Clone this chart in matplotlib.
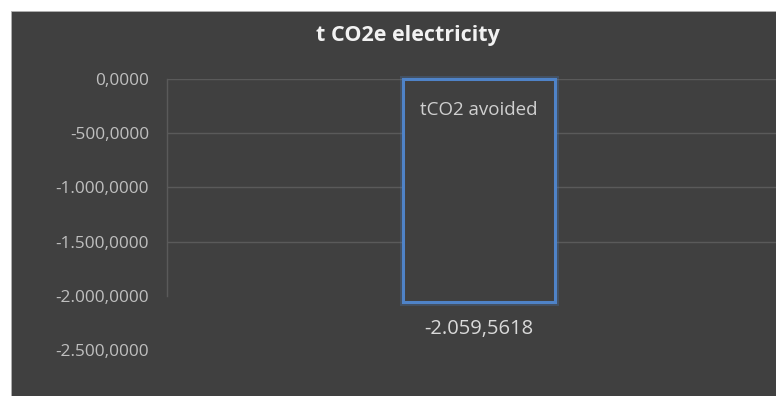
import matplotlib
matplotlib.use("Agg")
import matplotlib.pyplot as plt
from matplotlib.patches import Rectangle
from matplotlib.ticker import FuncFormatter
import matplotlib.patheffects as pe

# Chart data
categories = ["tCO2 avoided"]
values = [-2059.5618]
y_ticks = [0, -500, -1000, -1500, -2000, -2500]
grid_values = [0, -500, -1000, -1500]
title = "t CO2e electricity"

BG = "#404040"
GRID = "#5a5a5a"
BAR_EDGE = "#4f83c8"

plt.rcParams["font.family"] = ["Open Sans", "DejaVu Sans"]

W, H = 776, 396
fig = plt.figure(figsize=(W / 100, H / 100), dpi=100, facecolor="white")

# dark chart area, inset from the top and left edges
fig.patches.append(Rectangle((11 / W, 0), 1 - 11 / W, 1 - 11 / H,
                             transform=fig.transFigure, facecolor=BG,
                             edgecolor="#b0b0b0", linewidth=0.6, zorder=-10))


def euro_fmt(v, _pos=None):
    s = f"{abs(v):,.4f}".replace(",", "X").replace(".", ",").replace("X", ".")
    return ("-" if v < 0 else "") + s


left, top, bottom = 167, 79, 350
right = 791
ax = fig.add_axes([left / W, (H - bottom) / H, (right - left) / W, (bottom - top) / H])
ax.set_facecolor("none")
ax.set_ylim(min(y_ticks), max(y_ticks))
ax.set_xlim(-0.5, 0.5)

ax.set_yticks(y_ticks)
ax.yaxis.set_major_formatter(FuncFormatter(euro_fmt))
ax.tick_params(axis="y", length=0, pad=13, labelsize=12.4, labelcolor="#bfbfbf")
ax.set_xticks([])

for s in ["top", "right", "bottom"]:
    ax.spines[s].set_visible(False)
ax.spines["left"].set_color(GRID)
ax.spines["left"].set_linewidth(1.0)
ax.spines["left"].set_bounds(-2000, 0)

for g in grid_values:
    ax.axhline(g, color=GRID, linewidth=1.0, zorder=1)

x = list(range(len(categories)))
bars = ax.bar(x, values, width=0.242, facecolor=BG, edgecolor=BAR_EDGE,
              linewidth=2.2, zorder=3, clip_on=False)
for b in bars:
    b.set_path_effects([pe.Stroke(linewidth=5, foreground=BAR_EDGE, alpha=0.25),
                        pe.Normal()])

for xi, cat, v in zip(x, categories, values):
    ax.annotate(cat, (xi, 0), xytext=(0, -22), textcoords="offset points",
                ha="center", va="center", fontsize=13.5, color="#d0d0d0", zorder=4)
    ax.annotate(euro_fmt(v), (xi, v), xytext=(0, -19), textcoords="offset points",
                ha="center", va="center", fontsize=14.5, color="#d9d9d9", zorder=4)

fig.text(408 / W, 1 - 35 / H, title, ha="center", va="center",
         fontsize=15.5, fontweight="bold", color="#f2f2f2")

fig.savefig("out.png", dpi=100, facecolor="white")
